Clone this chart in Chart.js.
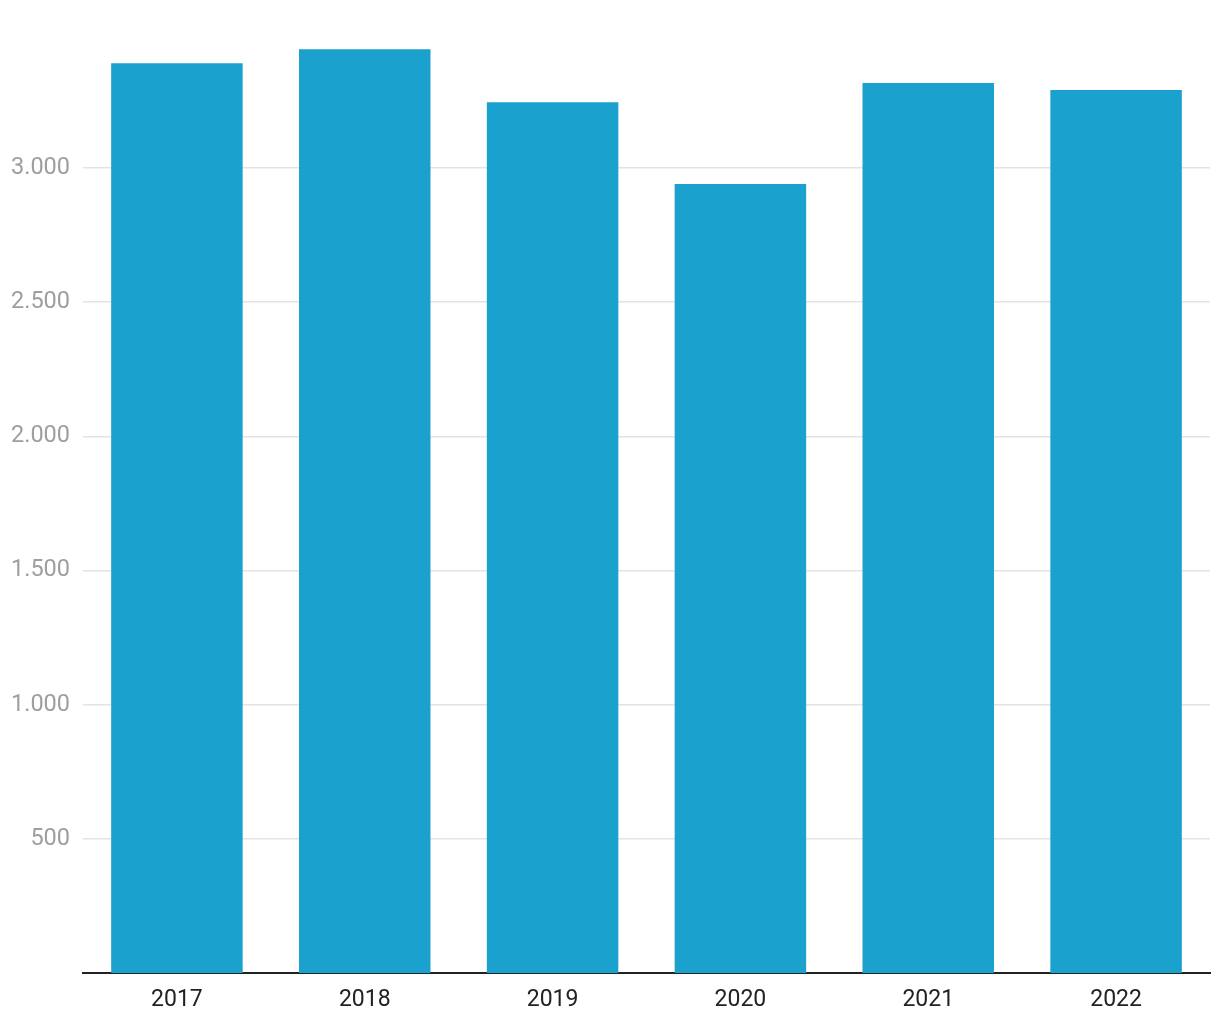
<!DOCTYPE html>
<html>
<head>
<meta charset="utf-8">
<script src="https://cdn.jsdelivr.net/npm/chart.js@4"></script>
<style>
  html, body { margin: 0; padding: 0; background: #fff; }
</style>
</head>
<body>
<canvas id="barChart" width="1220" height="1020"></canvas>
<script>
const years = ['2017', '2018', '2019', '2020', '2021', '2022'];
const values = [3390, 3443, 3245, 2940, 3317, 3291];
const yTicks = [500, 1000, 1500, 2000, 2500, 3000];

const ctx = document.getElementById('barChart').getContext('2d');
new Chart(ctx, {
  type: 'bar',
  data: {
    labels: years,
    datasets: [{
      data: values,
      backgroundColor: '#1aa1cd',
      borderWidth: 0,
      barPercentage: 0.7,
      categoryPercentage: 1
    }]
  },
  options: {
    responsive: false,
    animation: false,
    layout: { padding: { top: 7, right: 10, bottom: 0, left: 0 } },
    plugins: {
      legend: { display: false },
      tooltip: { enabled: false }
    },
    scales: {
      x: {
        grid: { display: false },
        border: { display: true, color: '#222', width: 2 },
        ticks: {
          color: '#222',
          padding: 5,
          font: { family: 'Roboto', size: 23 }
        },
        afterFit: (scale) => {
          scale.height = 47;
          scale.paddingLeft = 0;
          scale.paddingRight = 0;
        }
      },
      y: {
        min: 0,
        max: 3600,
        afterBuildTicks: (scale) => {
          scale.ticks = yTicks.map(v => ({ value: v }));
        },
        afterFit: (scale) => {
          scale.width = 83;
          scale.paddingTop = 0;
          scale.paddingBottom = 0;
        },
        border: { display: false },
        grid: { color: '#e3e3e3', lineWidth: 1.5, drawTicks: false },
        ticks: {
          color: '#9e9e9e',
          padding: 13,
          font: { family: 'Roboto', size: 23.5 },
          callback: (v) => v.toLocaleString('de-DE')
        }
      }
    }
  }
});
</script>
</body>
</html>
